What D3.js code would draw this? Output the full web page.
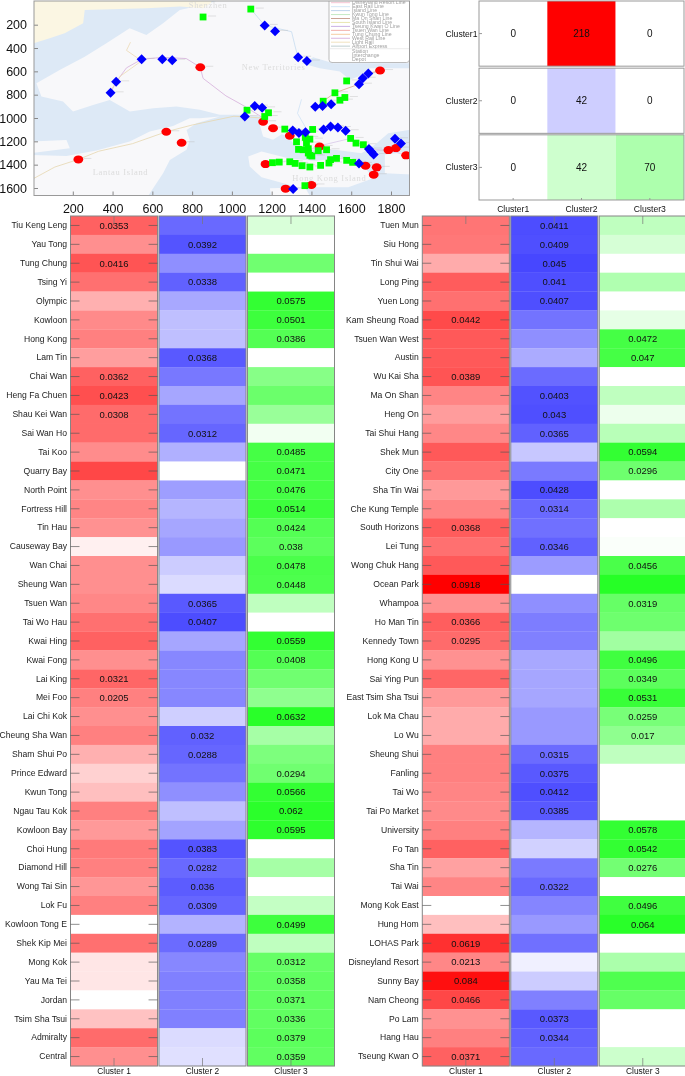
<!DOCTYPE html>
<html>
<head>
<meta charset="utf-8">
<script src="https://cdn.jsdelivr.net/npm/d3@7"></script>
<style>
	html, body { margin: 0; padding: 0; background: #fff; overflow: hidden; }
	svg { display: block; filter: blur(0.3px); font-family: "Liberation Sans", Arial, sans-serif; }
</style>
</head>
<body>
<svg id="canvas" width="685" height="1076"></svg>
<script>

// Stations, left table
var leftStations = ["Tiu Keng Leng","Yau Tong","Tung Chung","Tsing Yi","Olympic","Kowloon","Hong Kong","Lam Tin","Chai Wan","Heng Fa Chuen","Shau Kei Wan","Sai Wan Ho","Tai Koo","Quarry Bay","North Point","Fortress Hill","Tin Hau","Causeway Bay","Wan Chai","Sheung Wan","Tsuen Wan","Tai Wo Hau","Kwai Hing","Kwai Fong","Lai King","Mei Foo","Lai Chi Kok","Cheung Sha Wan","Sham Shui Po","Prince Edward","Kwun Tong","Ngau Tau Kok","Kowloon Bay","Choi Hung","Diamond Hill","Wong Tai Sin","Lok Fu","Kowloon Tong E","Shek Kip Mei","Mong Kok","Yau Ma Tei","Jordan","Tsim Sha Tsui","Admiralty","Central"];
// colour depth per cell, 0 to 100
var leftDepth1 = [62,44,67,56,31,46,50,38,62,69,58,58,45,72,44,48,43,6,44,44,47,56,62,44,60,50,44,50,31,18,25,50,40,52,50,41,50,0,56,10,10,0,24,58,44];
var leftDepth2 = [59,67,44,62,34,25,25,65,53,35,55,60,31,0,38,29,35,40,20,14,65,70,35,47,47,47,19,62,60,55,44,25,36,67,59,64,60,30,58,47,50,50,50,14,12];
var leftDepth3 = [15,0,56,0,80,76,67,0,47,58,40,5,73,73,73,76,67,64,71,70,25,0,80,67,56,44,84,35,51,56,80,83,82,0,35,0,23,76,25,60,62,62,62,64,62];
// printed numbers, null where the cell has none
var leftLabels1 = ["0.0353",null,"0.0416",null,null,null,null,null,"0.0362","0.0423","0.0308",null,null,null,null,null,null,null,null,null,null,null,null,null,"0.0321","0.0205",null,null,null,null,null,null,null,null,null,null,null,null,null,null,null,null,null,null,null];
var leftLabels2 = [null,"0.0392",null,"0.0338",null,null,null,"0.0368",null,null,null,"0.0312",null,null,null,null,null,null,null,null,"0.0365","0.0407",null,null,null,null,null,"0.032","0.0288",null,null,null,null,"0.0383","0.0282","0.036","0.0309",null,"0.0289",null,null,null,null,null,null];
var leftLabels3 = [null,null,null,null,"0.0575","0.0501","0.0386",null,null,null,null,null,"0.0485","0.0471","0.0476","0.0514","0.0424","0.038","0.0478","0.0448",null,null,"0.0559","0.0408",null,null,"0.0632",null,null,"0.0294","0.0566","0.062","0.0595",null,null,null,null,"0.0499",null,"0.0312","0.0358","0.0371","0.0336","0.0379","0.0359"];

// Stations, right table
var rightStations = ["Tuen Mun","Siu Hong","Tin Shui Wai","Long Ping","Yuen Long","Kam Sheung Road","Tsuen Wan West","Austin","Wu Kai Sha","Ma On Shan","Heng On","Tai Shui Hang","Shek Mun","City One","Sha Tin Wai","Che Kung Temple","South Horizons","Lei Tung","Wong Chuk Hang","Ocean Park","Whampoa","Ho Man Tin","Kennedy Town","Hong Kong U","Sai Ying Pun","East Tsim Sha Tsui","Lok Ma Chau","Lo Wu","Sheung Shui","Fanling","Tai Wo","Tai Po Market","University","Fo Tan","Sha Tin","Tai Wai","Mong Kok East","Hung Hom","LOHAS Park","Disneyland Resort","Sunny Bay","Nam Cheong","Po Lam","Hang Hau","Tseung Kwan O"];
var rightDepth1 = [54,53,33,64,56,71,65,65,67,48,39,47,65,56,40,48,64,56,65,100,43,63,58,43,60,40,33,33,50,50,48,46,50,62,37,48,0,25,81,47,94,72,43,50,62];
var rightDepth2 = [70,69,72,69,69,55,44,33,58,68,69,62,22,52,70,59,56,62,39,0,44,51,50,34,35,35,40,40,58,65,69,65,29,18,52,59,48,40,56,6,20,50,65,62,59];
var rightDepth3 = [25,16,0,31,0,10,73,73,0,25,7,28,80,57,0,32,0,2,71,85,60,57,37,75,64,78,53,44,25,0,0,0,80,80,55,0,75,84,0,33,69,60,0,0,20];
var rightLabels1 = [null,null,null,null,null,"0.0442",null,null,"0.0389",null,null,null,null,null,null,null,"0.0368",null,null,"0.0918",null,"0.0366","0.0295",null,null,null,null,null,null,null,null,null,null,null,null,null,null,null,"0.0619","0.0213","0.084","0.0466",null,null,"0.0371"];
var rightLabels2 = ["0.0411","0.0409","0.045","0.041","0.0407",null,null,null,null,"0.0403","0.043","0.0365",null,null,"0.0428","0.0314",null,"0.0346",null,null,null,null,null,null,null,null,null,null,"0.0315","0.0375","0.0412","0.0385",null,null,null,"0.0322",null,null,null,null,null,null,"0.0373","0.0344",null];
var rightLabels3 = [null,null,null,null,null,null,"0.0472","0.047",null,null,null,null,"0.0594","0.0296",null,null,null,null,"0.0456",null,"0.0319",null,null,"0.0496","0.0349","0.0531","0.0259","0.017",null,null,null,null,"0.0578","0.0542","0.0276",null,"0.0496","0.064",null,null,null,null,null,null,null];

var tableClusters = ["Cluster 1","Cluster 2","Cluster 3"];
var clusterHues = ["#ff0000","#0000ff","#00ff00"];

// Confusion matrix
var matrixRows = ["Cluster1","Cluster2","Cluster3"];
var matrixCols = ["Cluster1","Cluster2","Cluster3"];
var matrixCounts = [[0,218,0],[0,42,0],[0,42,70]];
var matrixHues = ["#ff0000","#0000ff","#00ff00"];

// Map axes, image coordinates
var mapXTicks = [200,400,600,800,1000,1200,1400,1600,1800];
var mapYTicks = [200,400,600,800,1000,1200,1400,1600];

var redStations = [[228,1355],[670,1118],[747,1212],[841,565],[1157,1032],[1207,1087],[1291,1152],[1441,1244],[1169,1395],[1270,1606],[1400,1574],[1672,1409],[1728,1423],[1713,1486],[1745,593],[1787,1275],[1825,1258],[1876,1320]];
var blueStations = [[390,784],[418,690],[546,497],[650,497],[700,505],[1065,987],[1115,898],[1152,913],[1165,206],[1217,257],[1333,479],[1377,511],[1419,904],[1456,898],[1499,881],[1306,1107],[1337,1129],[1370,1121],[1461,1098],[1496,1072],[1533,1081],[1572,1109],[1639,710],[1658,659],[1686,619],[1820,1178],[1850,1218],[1689,1266],[1701,1289],[1713,1312],[1639,1389],[1308,1608]];
var greenStations = [[855,134],[1095,66],[1076,933],[1184,955],[1165,987],[1266,1095],[1406,1098],[1577,682],[1518,784],[1568,824],[1543,847],[1459,856],[1597,1175],[1624,1215],[1661,1229],[1369,1166],[1392,1181],[1325,1204],[1375,1215],[1335,1269],[1358,1272],[1384,1263],[1384,1300],[1392,1320],[1402,1326],[1434,1280],[1476,1272],[1204,1383],[1238,1378],[1291,1375],[1318,1389],[1353,1409],[1392,1420],[1446,1406],[1488,1386],[1496,1357],[1526,1346],[1577,1363],[1607,1380],[1367,1580]];

// Base map outlines
var landMain = [[17,702],[134,588],[260,474],[369,359],[486,231],[570,288],[654,188],[738,74],[889,17],[950,-20],[1950,-20],[1950,530],[1510,531],[1409,479],[1350,531],[1442,573],[1543,602],[1593,673],[1636,645],[1694,573],[1950,573],[1950,1088],[1786,1130],[1719,1230],[1652,1302],[1518,1273],[1400,1273],[1384,1329],[1308,1215],[1275,1158],[1174,1072],[1157,987],[1065,973],[939,973],[839,930],[721,902],[604,916],[487,945],[386,845],[302,888],[201,945],[151,859],[42,816]];
var landShenzhen = [[-20,-20],[897,-20],[897,10],[855,60],[738,45],[570,60],[260,74],[252,188],[159,274],[84,316],[3,360],[-20,370]];
var landLantau = [[-20,1316],[168,1325],[319,1279],[486,1202],[587,1116],[704,1068],[788,1002],[839,1002],[939,988],[822,1045],[772,1102],[788,1188],[772,1273],[688,1359],[654,1473],[570,1690],[-20,1690]];
var landAirport = [[-20,1202],[168,1188],[185,1259],[-20,1302]];
var landIsland = [[1082,1330],[1149,1288],[1283,1345],[1417,1368],[1585,1330],[1652,1388],[1711,1516],[1585,1593],[1333,1593],[1149,1508],[1090,1416]];
var landApLeiChau = [[1191,1602],[1367,1593],[1400,1690],[1199,1690]];
var landClearWater = [[1769,1316],[1950,1273],[1950,1488],[1769,1473]];
var landTsingYi = [[1140,1058],[1224,1044],[1258,1130],[1207,1186],[1157,1158]];
var landPolygons = [landMain,landLantau,landAirport,landIsland,landApLeiChau,landClearWater,landTsingYi];

var railWest = [[390,784],[418,690],[470,570],[546,497],[650,480],[770,490],[841,565],[855,660],[970,810],[1065,900],[1157,1000]];
var railAirport = [[-20,1540],[110,1420],[228,1355],[330,1285],[500,1220],[670,1118],[800,1060],[1010,985],[1157,1000]];
var railLight = [[380,790],[440,640],[546,510],[470,420],[490,350]];
var railEast = [[1095,66],[1165,206],[1300,260],[1320,400],[1333,479],[1377,511]];
var railRiver = [[1350,840],[1330,960],[1380,1110]];
var railKwunTong = [[1402,1326],[1461,1230],[1597,1175],[1689,1266]];
var railTseung = [[1689,1266],[1787,1275],[1876,1320]];
var railMaOn = [[1459,856],[1518,784],[1639,710],[1686,619],[1745,593]];
var railLines = [
	{points: railWest, color: "#d6aedb"},
	{points: railAirport, color: "#e6d7b0"},
	{points: railLight, color: "#ecd9b4"},
	{points: railEast, color: "#c6dcf0"},
	{points: railRiver, color: "#cfe2f5"},
	{points: railKwunTong, color: "#d8c8e8"},
	{points: railTseung, color: "#d8c8e8"},
	{points: railMaOn, color: "#d9a88a"}
];

var placeNames = [
	{name: "Shenzhen", at: [880,60], size: 8.5},
	{name: "New Territories", at: [1210,590], size: 8.5},
	{name: "Lantau Island", at: [440,1490], size: 8.5},
	{name: "Hong Kong Island", at: [1490,1540], size: 8.5}
];

var legendNames = ["Disneyland Resort Line","East Rail Line","Island Line","Kwun Tong Line","Ma On Shan Line","South Island Line","Tseung Kwan O Line","Tsuen Wan Line","Tung Chung Line","West Rail Line","Light Rail","Airport Express"];
var legendColors = ["#f5c0d0","#cfe3f5","#b9d0ea","#bfe8c0","#c49a8a","#e6e2a8","#c4a8e0","#f0a8a0","#f4c79a","#d6aedb","#efe0b8","#b8c8c8"];
var legendMarks = ["Station","Interchange","Depot"];

var svg = d3.select("#canvas");
var defs = svg.append("defs");
defs.append("filter").attr("id", "soft").append("feGaussianBlur").attr("stdDeviation", 0.55);
defs.append("clipPath").attr("id", "mapClip").append("rect")
	.attr("x", 34).attr("y", 1).attr("width", 375.5).attr("height", 194.5);


// Map
var mapX = d3.scaleLinear().domain([200, 1800]).range([72.8, 391]);
var mapY = d3.scaleLinear().domain([200, 1600]).range([24.7, 188]);
var mapLine = d3.line()
	.x(function(d) { return mapX(d[0]); })
	.y(function(d) { return mapY(d[1]); });

var mapGroup = svg.append("g").attr("clip-path", "url(#mapClip)");
var baseGroup = mapGroup.append("g").attr("filter", "url(#soft)");

baseGroup.append("rect")
	.attr("x", 34).attr("y", 0).attr("width", 376).attr("height", 196)
	.attr("fill", "#dde9f6");

baseGroup.selectAll("path.land")
	.data(landPolygons)
	.enter().append("path")
	.attr("class", "land")
	.attr("d", function(d) { return mapLine(d) + "Z"; })
	.attr("fill", "#f8f8fa");

baseGroup.append("path")
	.attr("d", mapLine(landShenzhen) + "Z")
	.attr("fill", "#fbf6e3");

baseGroup.selectAll("path.rail")
	.data(railLines)
	.enter().append("path")
	.attr("class", "rail")
	.attr("d", function(d) { return mapLine(d.points); })
	.attr("fill", "none")
	.attr("stroke", function(d) { return d.color; })
	.attr("stroke-width", 0.8);

baseGroup.selectAll("text.place")
	.data(placeNames)
	.enter().append("text")
	.attr("class", "place")
	.attr("x", function(d) { return mapX(d.at[0]); })
	.attr("y", function(d) { return mapY(d.at[1]); })
	.attr("text-anchor", "middle")
	.attr("font-family", "'Liberation Serif', serif")
	.attr("font-size", function(d) { return d.size; })
	.attr("letter-spacing", 0.7)
	.attr("fill", "#dcdcdc")
	.text(function(d) { return d.name; });

// small grey stubs where the station captions sit
baseGroup.selectAll("line.stub")
	.data(redStations.concat(blueStations, greenStations))
	.enter().append("line")
	.attr("class", "stub")
	.attr("x1", function(d) { return mapX(d[0]) + 5; })
	.attr("x2", function(d) { return mapX(d[0]) + 13; })
	.attr("y1", function(d) { return mapY(d[1]) - 1; })
	.attr("y2", function(d) { return mapY(d[1]) - 1; })
	.attr("stroke", "#bbb")
	.attr("stroke-opacity", 0.7)
	.attr("stroke-width", 0.6);

// legend of the base map
var legendGroup = baseGroup.append("g");
legendGroup.append("rect")
	.attr("x", 329).attr("y", -6).attr("width", 80.5).attr("height", 68.5).attr("rx", 3)
	.attr("fill", "#fff").attr("stroke", "#aaa").attr("stroke-width", 0.8);
legendGroup.selectAll("line.key")
	.data(legendNames)
	.enter().append("line")
	.attr("class", "key")
	.attr("x1", 331).attr("x2", 350)
	.attr("y1", function(d, i) { return 2.7 + i * 3.95; })
	.attr("y2", function(d, i) { return 2.7 + i * 3.95; })
	.attr("stroke", function(d, i) { return legendColors[i]; })
	.attr("stroke-width", 0.9);
legendGroup.selectAll("text.key")
	.data(legendNames)
	.enter().append("text")
	.attr("class", "key")
	.attr("x", 352)
	.attr("y", function(d, i) { return 4.4 + i * 3.95; })
	.attr("font-size", 5.2)
	.attr("fill", "#a0a0a0")
	.text(function(d) { return d; });
legendGroup.append("line")
	.attr("x1", 330).attr("x2", 409).attr("y1", 48.7).attr("y2", 48.7)
	.attr("stroke", "#ddd").attr("stroke-width", 0.6);
legendGroup.selectAll("text.mark")
	.data(legendMarks)
	.enter().append("text")
	.attr("class", "mark")
	.attr("x", 352)
	.attr("y", function(d, i) { return 53.2 + i * 4; })
	.attr("font-size", 5.2)
	.attr("fill", "#a0a0a0")
	.text(function(d) { return d; });

var markGroup = mapGroup.append("g").attr("filter", "url(#soft)");

markGroup.selectAll("ellipse")
	.data(redStations)
	.enter().append("ellipse")
	.attr("cx", function(d) { return mapX(d[0]); })
	.attr("cy", function(d) { return mapY(d[1]); })
	.attr("rx", 4.9)
	.attr("ry", 4)
	.attr("fill", "#ff0000");

markGroup.selectAll("rect")
	.data(greenStations)
	.enter().append("rect")
	.attr("x", function(d) { return mapX(d[0]) - 3.4; })
	.attr("y", function(d) { return mapY(d[1]) - 3.4; })
	.attr("width", 6.8)
	.attr("height", 6.8)
	.attr("fill", "#00ff00");

markGroup.selectAll("path")
	.data(blueStations)
	.enter().append("path")
	.attr("d", d3.symbol(d3.symbolSquare, 50))
	.attr("transform", function(d) { return "translate(" + mapX(d[0]) + "," + mapY(d[1]) + ") rotate(45)"; })
	.attr("fill", "#0000ff");

var mapXAxis = d3.axisBottom(mapX).tickValues(mapXTicks).tickFormat(d3.format("d")).tickSizeInner(-4).tickSizeOuter(0).tickPadding(9);
var mapYAxis = d3.axisLeft(mapY).tickValues(mapYTicks).tickFormat(d3.format("d")).tickSizeInner(-4).tickSizeOuter(0).tickPadding(7);

var mapXG = svg.append("g").attr("transform", "translate(0,195.5)").call(mapXAxis);
var mapYG = svg.append("g").attr("transform", "translate(34,0)").call(mapYAxis);
[mapXG, mapYG].forEach(function(g) {
	g.select(".domain").remove();
	g.selectAll("line").attr("stroke", "#888");
	g.selectAll("text").attr("font-size", 12.5).attr("fill", "#111").attr("font-family", "'Liberation Sans', Arial, sans-serif");
});

svg.append("rect")
	.attr("x", 34).attr("y", 1).attr("width", 375.5).attr("height", 194.5)
	.attr("fill", "none").attr("stroke", "#999").attr("stroke-width", 1);


// Confusion matrix
var matX = d3.scaleBand().domain(matrixCols).range([479, 684]);
var matY = d3.scaleBand().domain(matrixRows).range([1, 201]);

var matRowG = svg.selectAll("g.matrow")
	.data(matrixRows)
	.enter().append("g")
	.attr("class", "matrow");

matrixRows.forEach(function(row, r) {
	var shade = d3.scaleLinear().domain([0, 218]).range(["#ffffff", matrixHues[r]]);
	var g = d3.select(matRowG.nodes()[r]);
	var top = matY(row) + (r == 0 ? 0 : 0.5);
	var h = matY.bandwidth() - 1.5;

	g.selectAll("rect")
		.data(matrixCounts[r])
		.enter().append("rect")
		.attr("x", function(d, i) { return matX(matrixCols[i]); })
		.attr("y", top)
		.attr("width", matX.bandwidth())
		.attr("height", h)
		.attr("fill", function(d) { return shade(d); });

	g.selectAll("text")
		.data(matrixCounts[r])
		.enter().append("text")
		.attr("x", function(d, i) { return matX(matrixCols[i]) + matX.bandwidth() / 2; })
		.attr("y", top + h / 2)
		.attr("dy", "0.35em")
		.attr("text-anchor", "middle")
		.attr("font-size", 10)
		.attr("fill", "#111")
		.text(function(d) { return d; });

	g.append("rect")
		.attr("x", matX.range()[0]).attr("y", top)
		.attr("width", matX.range()[1] - matX.range()[0]).attr("height", h)
		.attr("fill", "none").attr("stroke", "#999").attr("stroke-width", 1);

	g.append("line")
		.attr("x1", 479).attr("x2", 482)
		.attr("y1", top + h / 2).attr("y2", top + h / 2)
		.attr("stroke", "#999");

	g.append("text")
		.attr("x", 477.5)
		.attr("y", top + h / 2)
		.attr("dy", "0.35em")
		.attr("text-anchor", "end")
		.attr("font-size", 8.6)
		.attr("fill", "#111")
		.text(row);
});

var matXAxis = d3.axisBottom(matX).tickSizeInner(-2).tickSizeOuter(0).tickPadding(6);
var matXG = svg.append("g").attr("transform", "translate(0,200)").call(matXAxis);
matXG.select(".domain").remove();
matXG.selectAll("line").attr("stroke", "#999");
matXG.selectAll("text").attr("font-size", 8.6).attr("fill", "#111").attr("font-family", "'Liberation Sans', Arial, sans-serif");


// Station tables
function drawTable(left, right, labelRight, stations, depths, labels) {

	var rowY = d3.scaleBand().domain(stations).range([216, 1066]);
	var colX = d3.scaleBand().domain(tableClusters).range([left, right]).paddingInner(0.016);
	var panel = svg.append("g");

	tableClusters.forEach(function(name, c) {

		var shade = d3.scaleLinear().domain([0, 100]).range(["#ffffff", clusterHues[c]]);
		var col = panel.append("g");

		col.selectAll("rect")
			.data(depths[c])
			.enter().append("rect")
			.attr("x", colX(name))
			.attr("y", function(d, i) { return rowY(stations[i]); })
			.attr("width", colX.bandwidth())
			.attr("height", rowY.bandwidth() + 0.2)
			.attr("fill", function(d) { return shade(d); });

		var printed = labels[c].map(function(d, i) {
			return {label: d, station: stations[i]};
		}).filter(function(d) { return d.label !== null; });

		col.selectAll("text")
			.data(printed)
			.enter().append("text")
			.attr("x", colX(name) + colX.bandwidth() / 2)
			.attr("y", function(d) { return rowY(d.station) + rowY.bandwidth() / 2; })
			.attr("dy", "0.35em")
			.attr("text-anchor", "middle")
			.attr("font-size", 9.5)
			.attr("fill", "#111")
			.text(function(d) { return d.label; });

		col.append("rect")
			.attr("x", colX(name)).attr("y", 216)
			.attr("width", colX.bandwidth()).attr("height", 850)
			.attr("fill", "none").attr("stroke", "#858585").attr("stroke-width", 1);

		// centre ticks on the frame
		[[216, 224], [1066, 1058]].forEach(function(t) {
			col.append("line")
				.attr("x1", colX(name) + colX.bandwidth() / 2)
				.attr("x2", colX(name) + colX.bandwidth() / 2)
				.attr("y1", t[0]).attr("y2", t[1])
				.attr("stroke", "#777").attr("stroke-opacity", 0.7);
		});
	});

	var first = colX(tableClusters[0]);

	var leftAxis = d3.axisLeft(rowY).tickSizeInner(-9).tickSizeOuter(0).tickPadding(first - labelRight + 1);
	var leftG = panel.append("g").attr("transform", "translate(" + first + ",0)").call(leftAxis);
	leftG.select(".domain").remove();
	leftG.selectAll("line").attr("stroke", "#555").attr("stroke-opacity", 0.65);
	leftG.selectAll("text").attr("font-size", 8.6).attr("fill", "#222").attr("font-family", "'Liberation Sans', Arial, sans-serif");

	// same ticks on the right side of the first column
	var sideG = panel.append("g");
	sideG.selectAll("line")
		.data(stations)
		.enter().append("line")
		.attr("x1", first + colX.bandwidth() - 9)
		.attr("x2", first + colX.bandwidth())
		.attr("y1", function(d) { return rowY(d) + rowY.bandwidth() / 2; })
		.attr("y2", function(d) { return rowY(d) + rowY.bandwidth() / 2; })
		.attr("stroke", "#555").attr("stroke-opacity", 0.65);

	var bottomAxis = d3.axisBottom(colX).tickSize(0).tickPadding(2);
	var bottomG = panel.append("g").attr("transform", "translate(0,1066)").call(bottomAxis);
	bottomG.select(".domain").remove();
	bottomG.selectAll("text").attr("font-size", 8.4).attr("fill", "#111").attr("font-family", "'Liberation Sans', Arial, sans-serif");
}

drawTable(70.5, 334.5, 68, leftStations,
	[leftDepth1, leftDepth2, leftDepth3],
	[leftLabels1, leftLabels2, leftLabels3]);

drawTable(422.3, 686.3, 419.7, rightStations,
	[rightDepth1, rightDepth2, rightDepth3],
	[rightLabels1, rightLabels2, rightLabels3]);

</script>
</body>
</html>
